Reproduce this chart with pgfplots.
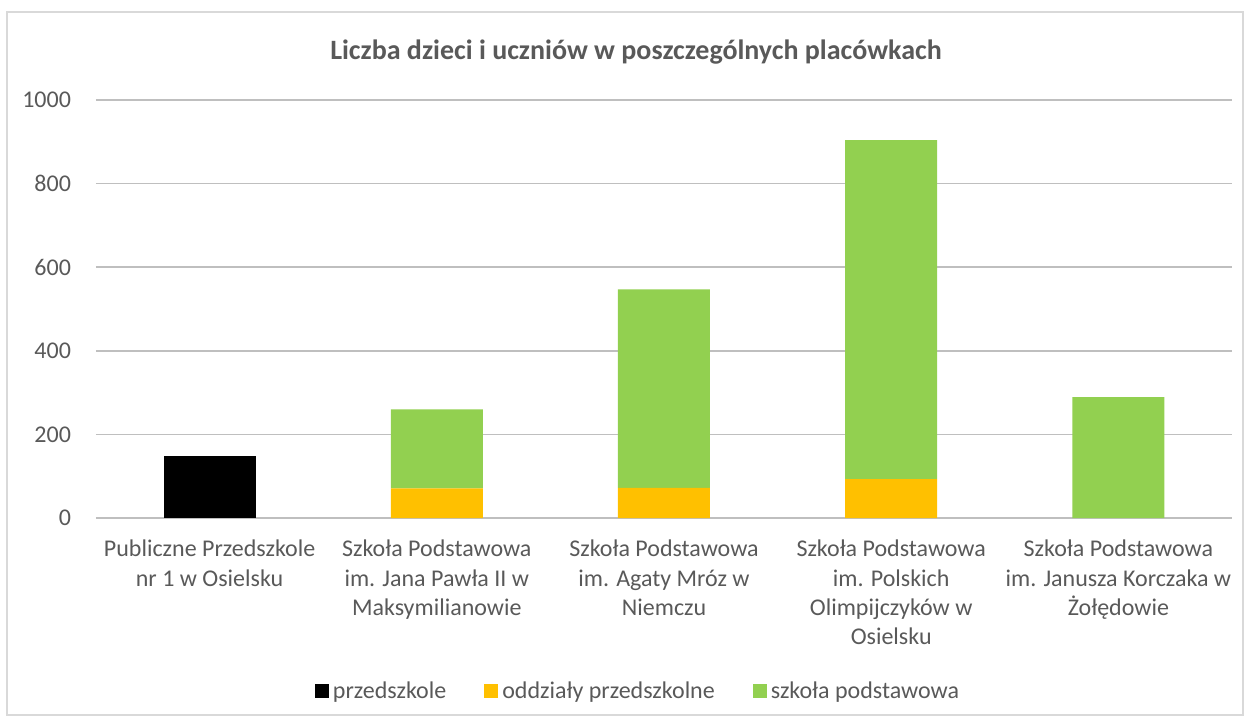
\documentclass[border=0pt]{standalone}
\usepackage{pgfplots}
\pgfplotsset{compat=1.18}
\usepackage{fontspec}
\setmainfont{Carlito}
\definecolor{txt}{HTML}{595959}
\definecolor{grid}{HTML}{D9D9D9}
\definecolor{cOr}{HTML}{FFC000}
\definecolor{cGr}{HTML}{92D050}
\begin{document}
\begin{tikzpicture}
\path (0pt,0pt) rectangle (625pt,362.5pt);
\draw[grid, line width=0.6pt] (3.5pt,5pt) rectangle (621.5pt,356.5pt);
\node[txt, font=\fontsize{14}{16}\selectfont\bfseries] at (318pt,336.5pt) {Liczba dzieci i uczniów w poszczególnych placówkach};
\begin{axis}[
  at={(48pt,103.5pt)}, anchor=south west,
  scale only axis, width=568pt, height=209pt,
  ymin=0, ymax=1000, ytick={0,200,...,1000},
  xmin=-0.5, xmax=4.5,
  xtick={0,1,2,3,4},
  xticklabels={{Publiczne Przedszkole\\nr 1 w Osielsku},
    {Szkoła Podstawowa\\im. Jana Pawła II w\\Maksymilianowie},
    {Szkoła Podstawowa\\im. Agaty Mróz w\\Niemczu},
    {Szkoła Podstawowa\\im. Polskich\\Olimpijczyków w\\Osielsku},
    {Szkoła Podstawowa\\im. Janusza Korczaka w\\Żołędowie}},
  xticklabel style={align=center, font=\fontsize{12}{14.7}\selectfont, text=txt, yshift=-7.5pt},
  yticklabel style={font=\fontsize{12}{14.7}\selectfont, text=txt, xshift=-9pt},
  /pgf/number format/assume math mode=true,
  /pgf/number format/1000 sep={},
  xmajorgrids=false, ymajorgrids=true, major grid style={grid, line width=0.8pt},
  axis line style={draw=none},
  tick style={draw=none},
  ybar stacked, bar width=46pt,
  legend columns=3,
  legend style={draw=none, fill=none, at={(0.478,-0.415)}, anchor=center,
    font=\fontsize{12}{14.7}\selectfont, text=txt,
    /tikz/every even column/.append style={column sep=17pt}},
  legend image code/.code={\fill[#1] (0pt,-3.5pt) rectangle (7pt,3.5pt);},
]
\addplot[fill=black, draw=none] coordinates {(0,149) (1,0) (2,0) (3,0) (4,0)};
\addplot[fill=cOr, draw=none] coordinates {(0,0) (1,71) (2,72) (3,93) (4,0)};
\addplot[fill=cGr, draw=none] coordinates {(0,0) (1,189) (2,475) (3,811) (4,289)};
\legend{przedszkole, oddziały przedszkolne, szkoła podstawowa}
\end{axis}
\end{tikzpicture}
\end{document}
